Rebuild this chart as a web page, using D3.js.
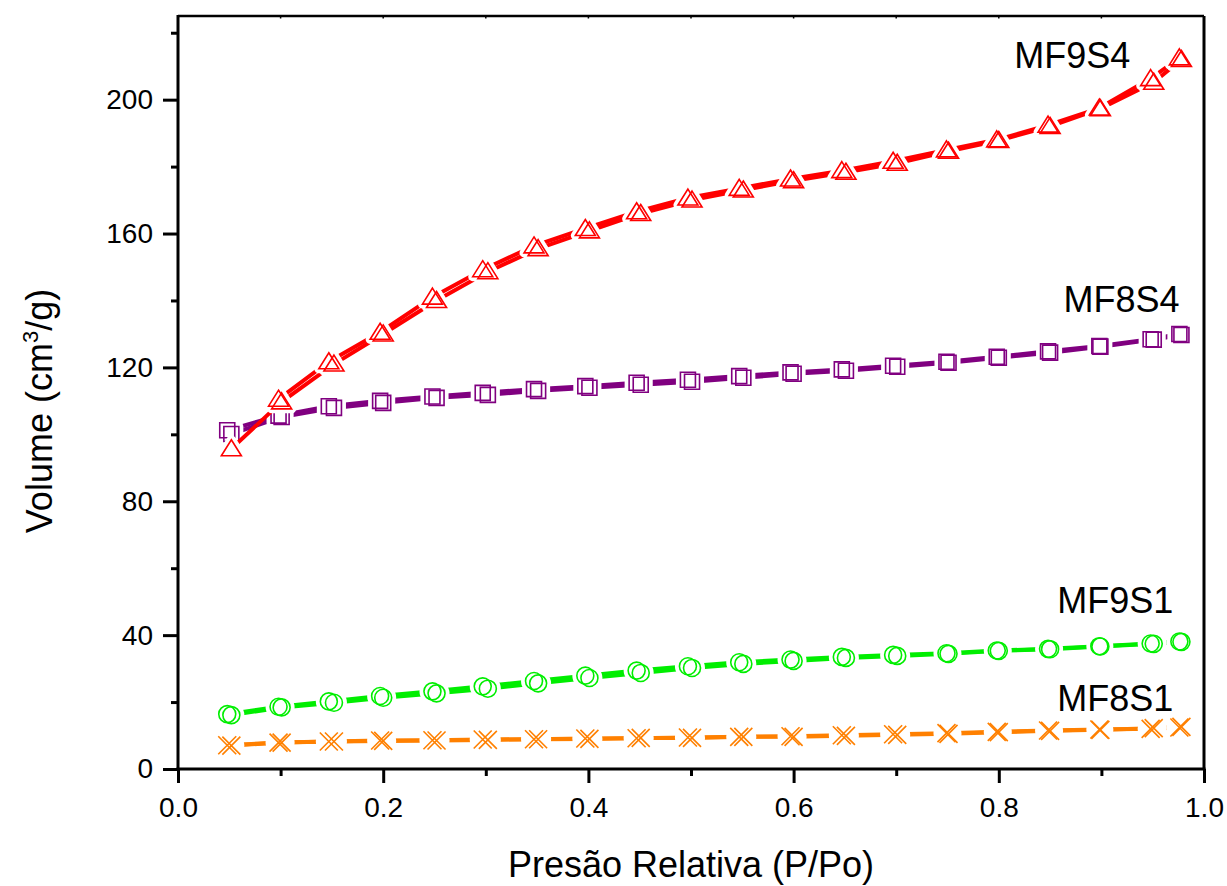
<!DOCTYPE html>
<html>
<head>
<meta charset="utf-8">
<script src="https://cdn.jsdelivr.net/npm/d3@7"></script>
<style>
  html, body { margin: 0; padding: 0; background: #fff; }
  svg { display: block; font-family: "Liberation Sans", Arial, sans-serif; }
</style>
</head>
<body>
<svg id="chart" width="1227" height="886"></svg>
<script>
// Relative pressure of each measured point, adsorption (rising) and desorption (falling)
const pAds = [0.052, 0.101, 0.152, 0.200, 0.252, 0.302, 0.351, 0.401, 0.451, 0.501,
              0.551, 0.600, 0.651, 0.701, 0.751, 0.800, 0.850, 0.899, 0.951, 0.978];
const pDes = [0.976, 0.948, 0.898, 0.848, 0.798, 0.749, 0.697, 0.647, 0.597, 0.547,
              0.497, 0.447, 0.397, 0.347, 0.297, 0.248, 0.197, 0.147, 0.098, 0.048];

// Adsorbed volume (cm3/g) per sample
const mf9s4Ads = [95.7, 109.7, 121.0, 130.0, 140.0, 148.6, 155.5, 160.8, 166.0, 170.0,
                  173.0, 175.8, 178.3, 181.0, 184.6, 187.8, 192.0, 197.3, 205.2, 212.0];
const mf9s4Des = [212.5, 206.3, 197.5, 192.4, 188.0, 185.0, 181.6, 178.8, 176.3, 173.5,
                  170.6, 166.5, 161.5, 156.3, 149.2, 141.0, 130.5, 121.7, 110.5];

const mf8s4Ads = [100.1, 105.2, 107.9, 109.4, 110.9, 111.8, 113.0, 113.9, 114.8, 115.7,
                  116.9, 118.1, 119.0, 120.2, 121.4, 122.9, 124.4, 126.2, 128.3, 129.7];
const mf8s4Des = [130.0, 128.4, 126.4, 124.8, 123.2, 121.7, 120.5, 119.4, 118.5, 117.4,
                  116.3, 115.4, 114.4, 113.5, 112.4, 111.3, 110.0, 108.4, 105.6, 101.2];

const mf9s1Ads = [16.1, 18.4, 19.8, 21.3, 22.6, 24.0, 25.6, 27.2, 28.7, 30.2,
                  31.4, 32.3, 33.2, 33.8, 34.4, 35.3, 35.8, 36.6, 37.4, 38.0];
const mf9s1Des = [38.1, 37.5, 36.7, 35.9, 35.4, 34.6, 34.1, 33.5, 32.7, 31.9,
                  30.7, 29.4, 27.9, 26.3, 24.7, 23.2, 21.8, 20.2, 18.6, 16.4];

const mf8s1Ads = [7.0, 7.9, 8.2, 8.4, 8.5, 8.7, 8.9, 9.0, 9.3, 9.3,
                  9.6, 9.6, 9.9, 10.2, 10.5, 11.0, 11.4, 11.7, 12.2, 12.6];
const mf8s1Des = [12.4, 12.0, 11.8, 11.5, 11.1, 10.7, 10.4, 10.1, 9.8, 9.6,
                  9.4, 9.2, 9.1, 8.9, 8.8, 8.6, 8.5, 8.2, 7.9, 7.1];

// Axis ticks
const xTicks = [0.0, 0.2, 0.4, 0.6, 0.8, 1.0];
const yTicks = [0, 40, 80, 120, 160, 200];

// label: [P/Po, volume] of the left end of each sample name's baseline
const series = [
  { name: "MF8S1", color: "#ff8000", symbol: "x",        ads: mf8s1Ads, des: mf8s1Des, label: [0.857, 17.4] },
  { name: "MF9S1", color: "#00ee00", symbol: "circle",   ads: mf9s1Ads, des: mf9s1Des, label: [0.857, 46.6] },
  { name: "MF8S4", color: "#800080", symbol: "square",   ads: mf8s4Ads, des: mf8s4Des, label: [0.863, 136.6] },
  { name: "MF9S4", color: "#ff0000", symbol: "triangle", ads: mf9s4Ads, des: mf9s4Des, label: [0.815, 209.6] }
];

const svg = d3.select("#chart");
const plotLeft = 178, plotRight = 1204, plotTop = 16, plotBottom = 769;

const x = d3.scaleLinear().domain([0, 1]).range([plotLeft, plotRight]);
const y = d3.scaleLinear().domain([0, 225]).range([plotBottom, plotTop]);

// Marker outlines centred on the data point
function markerPath(type) {
  switch (type) {
    case "triangle": return "M0,-9L10,7L-10,7Z";
    case "square":   return "M-7.5,-7.5H7.5V7.5H-7.5Z";
    case "circle":   return "M8.5,0A8.5,8.5 0 1 1 -8.5,0A8.5,8.5 0 1 1 8.5,0Z";
    case "x":        return "M-9,-9L9,9M9,-9L-9,9";
  }
}
// Clearance shape that keeps the connecting line away from a marker
function haloPath(type) {
  if (type === "x") return "M8.5,0A8.5,8.5 0 1 1 -8.5,0A8.5,8.5 0 1 1 8.5,0Z";
  return markerPath(type);
}

const line = d3.line().x(d => x(d[0])).y(d => y(d[1]));
const pairs = (ps, vs) => vs.map((v, i) => [ps[i], v]);

const plot = svg.append("g");

series.forEach(s => {
  const branches = [pairs(pAds, s.ads), pairs(pDes, s.des)];
  const g = plot.append("g");
  // connecting lines
  branches.forEach(pts => {
    g.append("path").datum(pts)
      .attr("d", line)
      .attr("fill", "none")
      .attr("stroke", s.color)
      .attr("stroke-width", 4);
  });
  const allPts = branches[0].concat(branches[1]);
  // white clearance around each marker
  g.selectAll("path.halo").data(allPts).join("path")
    .attr("class", "halo")
    .attr("transform", d => `translate(${x(d[0])},${y(d[1])})`)
    .attr("d", haloPath(s.symbol))
    .attr("fill", "#fff")
    .attr("stroke", "#fff")
    .attr("stroke-width", 9)
    .attr("stroke-linejoin", "round");
  // hollow markers
  g.selectAll("path.mk").data(allPts).join("path")
    .attr("class", "mk")
    .attr("transform", d => `translate(${x(d[0])},${y(d[1])})`)
    .attr("d", markerPath(s.symbol))
    .attr("fill", "none")
    .attr("stroke", s.color)
    .attr("stroke-width", 1.6);
});

// Frame: top and right edges
svg.append("line").attr("x1", plotLeft).attr("x2", plotRight).attr("y1", plotTop).attr("y2", plotTop)
  .attr("stroke", "#000").attr("stroke-width", 2.5);
svg.append("line").attr("x1", plotRight).attr("x2", plotRight).attr("y1", plotTop).attr("y2", plotBottom)
  .attr("stroke", "#000").attr("stroke-width", 3);

// small inward ticks along the top edge
svg.append("g").selectAll("line").data(d3.range(1, 10).map(i => i / 10)).join("line")
  .attr("x1", d => x(d)).attr("x2", d => x(d))
  .attr("y1", plotTop).attr("y2", plotTop + 2.5)
  .attr("stroke", "#000").attr("stroke-width", 1.5);

// Bottom axis
const xAxis = svg.append("g").attr("transform", `translate(0,${plotBottom})`);
xAxis.call(d3.axisBottom(x).tickValues(d3.range(1, 10, 2).map(i => i / 10))
  .tickSize(7).tickFormat(""));
xAxis.append("g").call(d3.axisBottom(x).tickValues(xTicks).tickSize(14).tickPadding(14)
  .tickFormat(d3.format(".1f")));
xAxis.selectAll(".domain").remove();
xAxis.append("line").attr("x1", plotLeft - 1.5).attr("x2", plotRight + 1.5)
  .attr("stroke", "#000").attr("stroke-width", 3);
xAxis.selectAll(".tick line").attr("stroke", "#000").attr("stroke-width", 3);
xAxis.selectAll(".tick text").attr("fill", "#000").attr("font-size", 28)
  .attr("font-family", "Liberation Sans, Arial, sans-serif");

// Left axis
const yAxis = svg.append("g").attr("transform", `translate(${plotLeft},0)`);
yAxis.call(d3.axisLeft(y).tickValues([20, 60, 100, 140, 180, 220]).tickSize(7).tickFormat(""));
yAxis.append("g").call(d3.axisLeft(y).tickValues(yTicks).tickSize(15).tickPadding(10));
yAxis.selectAll(".domain").remove();
yAxis.append("line").attr("y1", plotTop - 1).attr("y2", plotBottom + 1.5)
  .attr("stroke", "#000").attr("stroke-width", 3);
yAxis.selectAll(".tick line").attr("stroke", "#000").attr("stroke-width", 3);
yAxis.selectAll(".tick text").attr("fill", "#000").attr("font-size", 28)
  .attr("font-family", "Liberation Sans, Arial, sans-serif");

// Axis titles
svg.append("text")
  .attr("x", (plotLeft + plotRight) / 2).attr("y", 877)
  .attr("text-anchor", "middle").attr("font-size", 36)
  .text("Presão Relativa (P/Po)");

const yt = svg.append("text")
  .attr("transform", `translate(52,411) rotate(-90)`)
  .attr("text-anchor", "middle").attr("font-size", 36);
yt.append("tspan").text("Volume (cm");
yt.append("tspan").attr("font-size", 22).attr("dy", -14).text("3");
yt.append("tspan").attr("dy", 14).text("/g)");

// Sample labels
svg.append("g").selectAll("text").data(series).join("text")
  .attr("x", d => x(d.label[0])).attr("y", d => y(d.label[1]))
  .attr("text-anchor", "start").attr("font-size", 36).attr("fill", "#000")
  .text(d => d.name);
</script>
</body>
</html>
